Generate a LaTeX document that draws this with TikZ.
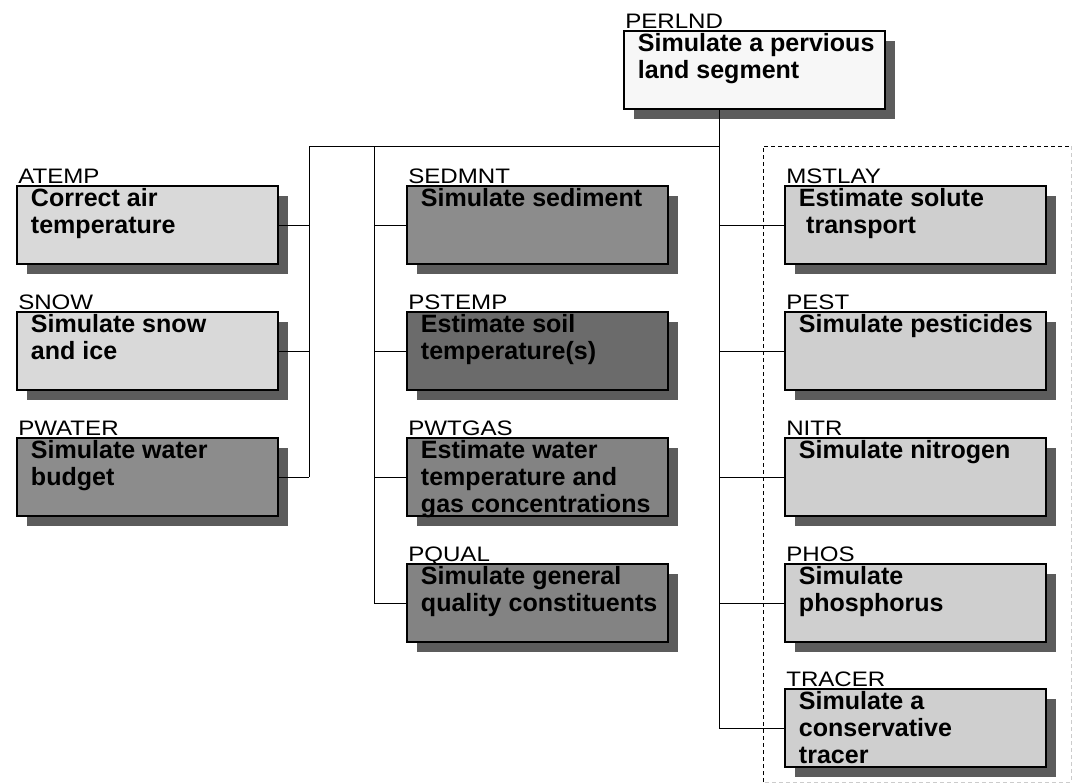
\documentclass[tikz,border=0pt]{standalone}
\usepackage{fontspec}
\setmainfont{Liberation Sans}
\newfontfamily\tagfont{Liberation Sans}[FakeStretch=1.15]
\usetikzlibrary{shadows}

\definecolor{topfill}{HTML}{F7F7F7}
\definecolor{lightfill}{HTML}{D9D9D9}
\definecolor{sidefill}{HTML}{CFCFCF}
\definecolor{midfill}{HTML}{8C8C8C}
\definecolor{darkfill}{HTML}{6B6B6B}
\definecolor{greyfill}{HTML}{838383}
\definecolor{shadowgrey}{HTML}{5C5C5C}

\begin{document}
\begin{tikzpicture}[
	x=0.025cm, y=-0.025cm,
	module/.style={
		draw, line width=1.4pt, fill=#1, anchor=north west,
		inner sep=0pt,
		drop shadow={shadow xshift=0.25cm, shadow yshift=-0.24cm,
			fill=shadowgrey, opacity=1},
		font=\bfseries\fontsize{17.8}{19.2}\selectfont,
		execute at begin node={\begin{minipage}[b][1.95cm][t]{6.525cm}\raggedright\leftskip=0.35cm\rule{0pt}{0.51cm}},
		execute at end node={\end{minipage}}
	},
	tag/.style={
		anchor=base west, inner sep=0pt, xshift=0.05cm, yshift=0.05cm,
		font=\tagfont\fontsize{14.9}{16}\selectfont
	},
	wire/.style={line width=0.6pt},
	group/.style={dashed, line width=0.7pt, dash pattern=on 0.1cm off 0.075cm}
]
\useasboundingbox (0,0) rectangle (1074,784);

% Dashed frame round the water quality modules (right and bottom edges faint)
\draw[group] (763,782) -- (763,146) -- (1071,146);
\draw[group, draw=black!20] (1071,146) -- (1071,782) -- (763,782);

% Top module
\node[module=topfill, label={[tag]north west:PERLND}] (perlnd) at (623,30)
	{Simulate a pervious\\land segment};

% Left column
\node[module=lightfill, label={[tag]north west:ATEMP}]  (atemp)  at (16,185) {Correct air\\temperature};
\node[module=lightfill, label={[tag]north west:SNOW}]   (snow)   at (16,311) {Simulate snow\\and ice};
\node[module=midfill,   label={[tag]north west:PWATER}] (pwater) at (16,437) {Simulate water\\budget};

% Middle column
\node[module=midfill,  label={[tag]north west:SEDMNT}] (sedmnt) at (406,185) {Simulate sediment};
\node[module=darkfill, label={[tag]north west:PSTEMP}] (pstemp) at (406,311) {Estimate soil\\temperature(s)};
\node[module=greyfill, label={[tag]north west:PWTGAS}] (pwtgas) at (406,437)
	{Estimate water\\temperature and\\gas concentrations};
\node[module=greyfill, label={[tag]north west:PQUAL}]  (pqual)  at (406,563)
	{Simulate general\\quality constituents};

% Right column (inside dashed frame)
\node[module=sidefill, label={[tag]north west:MSTLAY}] (mstlay) at (784,185)
	{Estimate solute\\\hspace*{0.18cm}transport};
\node[module=sidefill, label={[tag]north west:PEST}]   (pest)   at (784,311) {Simulate pesticides};
\node[module=sidefill, label={[tag]north west:NITR}]   (nitr)   at (784,437) {Simulate nitrogen};
\node[module=sidefill, label={[tag]north west:PHOS}]   (phos)   at (784,563) {Simulate\\phosphorus};
\node[module=sidefill, label={[tag]north west:TRACER}] (tracer) at (784,688)
	{Simulate a\\conservative\\tracer};

% Bus lines
\coordinate (lbus) at (309,146);
\coordinate (mbus) at (374,146);
\coordinate (rbus) at (719,146);

\draw[wire] (lbus) -- (rbus);
\draw[wire] (perlnd.south -| rbus) -- (rbus |- tracer.west);
\draw[wire] (lbus) -- (lbus |- pwater.east);
\draw[wire] (mbus) -- (mbus |- pqual.west);

% Stubs into each module
\foreach \m in {atemp,snow,pwater}
	\draw[wire] (\m.east) -- (\m.east -| lbus);
\foreach \m in {sedmnt,pstemp,pwtgas,pqual}
	\draw[wire] (\m.west) -- (\m.west -| mbus);
\foreach \m in {mstlay,pest,nitr,phos,tracer}
	\draw[wire] (\m.west) -- (\m.west -| rbus);

\end{tikzpicture}
\end{document}
